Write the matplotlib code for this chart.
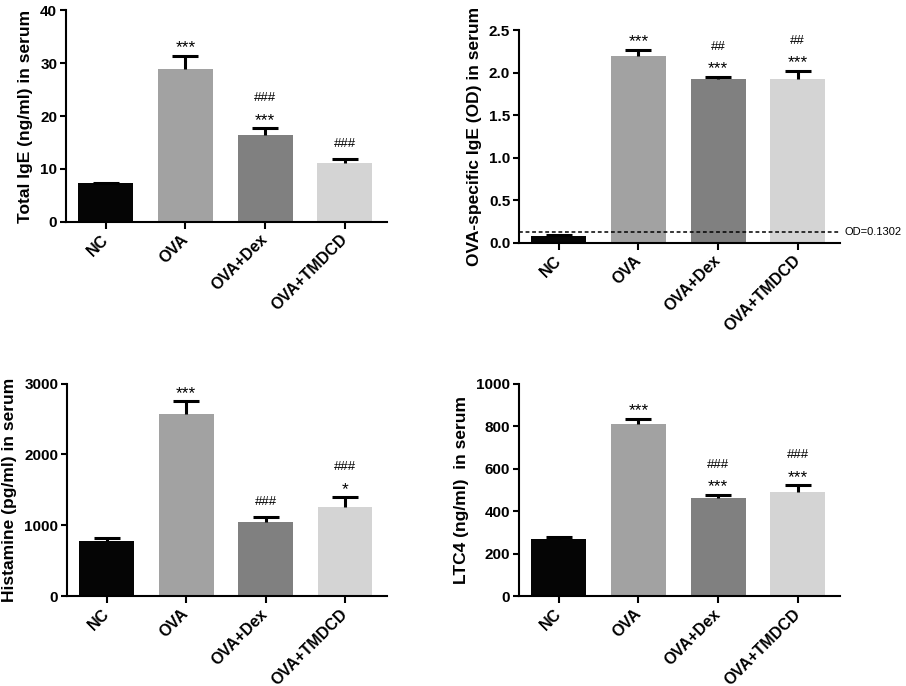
import numpy as np
import matplotlib
matplotlib.use("Agg")
from matplotlib import pyplot as plt
from matplotlib.ticker import FormatStrFormatter
from matplotlib.transforms import blended_transform_factory

plt.rcParams['font.family'] = ['Liberation Sans', 'DejaVu Sans']

GROUPS = ["NC", "OVA", "OVA+Dex", "OVA+TMDCD"]
COLORS = ["#050505", "#a2a2a2", "#808080", "#d4d4d4"]

# total IgE (ng/ml)
IGE_TOTAL = [7.3, 28.9, 16.4, 11.1]
IGE_TOTAL_ERR = [0.15, 2.5, 1.3, 0.7]
IGE_TOTAL_SIG = [[], ["***"], ["***", "###"], ["###"]]

# OVA-specific IgE (OD)
IGE_OVA = [0.08, 2.20, 1.92, 1.93]
IGE_OVA_ERR = [0.005, 0.07, 0.03, 0.09]
IGE_OVA_SIG = [[], ["***"], ["***", "##"], ["***", "##"]]
OD_CUTOFF = 0.1302

# histamine (pg/ml)
HISTAMINE = [780, 2572, 1053, 1260]
HISTAMINE_ERR = [38, 180, 62, 137]
HISTAMINE_SIG = [[], ["***"], ["###"], ["*", "###"]]

# LTC4 (ng/ml)
LTC4 = [268, 810, 462, 491]
LTC4_ERR = [12, 24, 16, 31]
LTC4_SIG = [[], ["***"], ["***", "###"], ["***", "###"]]

PX = 0.72  # points per pixel at dpi 100


def drawPanel(ax, vals, errs, sigs, ylabel, yticks, fmt=None):
    x = np.arange(len(GROUPS))
    ax.bar(x, vals, width=0.69, color=COLORS, zorder=2)
    _, caps, _ = ax.errorbar(x, vals, yerr=[np.zeros(len(vals)), errs], fmt='none',
                             ecolor='black', elinewidth=2.2, capsize=9.4,
                             capthick=2.2, zorder=3)
    caps[0].set_visible(False)  # only the upper cap, like Prism
    for i in range(len(vals)):
        top = vals[i] + errs[i]
        for k, s in enumerate(sigs[i]):
            star = s.startswith('*')
            if k == 0:
                off = 3.5 if star else 12
            else:
                off = 27
            ax.annotate(s, xy=(i, top), xytext=(0, off * PX), textcoords='offset points',
                        ha='center', va='baseline', fontsize=12.5 if star else 9.5)
    ax.set_xlim(-0.5, 3.53)
    ax.set_ylim(yticks[0], yticks[-1])
    ax.set_yticks(yticks)
    if fmt:
        ax.yaxis.set_major_formatter(FormatStrFormatter(fmt))
    ax.set_xticks(x)
    ax.set_xticklabels(GROUPS, rotation=45, ha='right', va='center',
                       rotation_mode='anchor', fontweight='bold', fontsize=11.5)
    for lab in ax.get_yticklabels():
        lab.set_fontweight('bold')
        lab.set_fontsize(11)
    ax.set_ylabel(ylabel, fontweight='bold', fontsize=12.5, labelpad=5)
    ax.spines['top'].set_visible(False)
    ax.spines['right'].set_visible(False)
    ax.spines['left'].set_linewidth(1.5)
    ax.spines['bottom'].set_linewidth(1.5)
    ax.tick_params(axis='y', length=4.3, width=1.5, pad=2)
    ax.tick_params(axis='x', length=5, width=1.5, pad=6)


fig = plt.figure(figsize=(9.06, 6.86), dpi=100)
ax1 = fig.add_axes([0.0728, 0.6764, 0.3543, 0.309])
ax2 = fig.add_axes([0.5728, 0.6462, 0.3543, 0.310])
ax3 = fig.add_axes([0.0740, 0.1308, 0.3532, 0.310])
ax4 = fig.add_axes([0.5728, 0.1308, 0.3543, 0.310])

drawPanel(ax1, IGE_TOTAL, IGE_TOTAL_ERR, IGE_TOTAL_SIG,
          "Total IgE (ng/ml) in serum", [0, 10, 20, 30, 40])
drawPanel(ax2, IGE_OVA, IGE_OVA_ERR, IGE_OVA_SIG,
          "OVA-specific IgE (OD) in serum", [0, 0.5, 1.0, 1.5, 2.0, 2.5], '%.1f')
drawPanel(ax3, HISTAMINE, HISTAMINE_ERR, HISTAMINE_SIG,
          "Histamine (pg/ml) in serum", [0, 1000, 2000, 3000])
drawPanel(ax4, LTC4, LTC4_ERR, LTC4_SIG,
          "LTC4 (ng/ml)  in serum", [0, 200, 400, 600, 800, 1000])

ax2.axhline(OD_CUTOFF, color='black', ls=(0, (2.5, 1.8)), lw=1.1, zorder=4)
tr = blended_transform_factory(ax2.transAxes, ax2.transData)
ax2.text(1.015, OD_CUTOFF, "OD=0.1302", transform=tr, ha='left', va='center',
         fontsize=8, clip_on=False)

fig.savefig("out.png", dpi=100)
